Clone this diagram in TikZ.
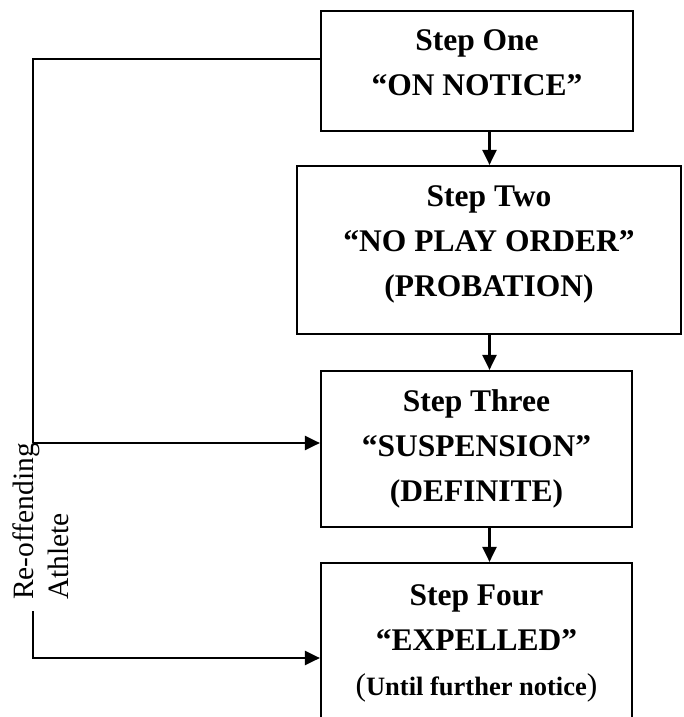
\documentclass[tikz,border=0pt]{standalone}
\usepackage{fontspec}
\setmainfont{Liberation Serif}
\usepackage{tikz}
\usetikzlibrary{shapes,arrows.meta,positioning}
\tikzstyle{stepbox} = [rectangle, draw, line width=2.2pt, inner sep=0pt, align=center, font=\bfseries\fontsize{31.5}{45}\selectfont]
\tikzstyle{line} = [draw, line width=2.2pt]
\tikzstyle{arrowline} = [draw, line width=2.2pt, -{Triangle[length=15pt,width=14pt]}]

\begin{document}
\begin{tikzpicture}[x=1pt, y=-1pt]
			\useasboundingbox (0,0) rectangle (683,717);
			\clip (0,0) rectangle (683,717);

			\node [stepbox, minimum width=312pt, minimum height=120pt, text depth=16pt] (one) at (477,71) {Step One\\``ON NOTICE''};
			\node [stepbox, minimum width=384pt, minimum height=168pt, text depth=18pt] (two) at (489,250) {Step Two\\``NO PLAY ORDER''\\(PROBATION)};
			\node [stepbox, minimum width=311pt, minimum height=156pt] (three) at (476.5,449) {Step Three\\``SUSPENSION''\\(DEFINITE)};
			\node [stepbox, minimum width=311pt, minimum height=160pt] (four) at (476.5,643) {Step Four\\``EXPELLED''\\{\mdseries(}{\fontsize{26.5}{45}\selectfont Until further notice}{\mdseries)}};
			\node [rotate=90, anchor=west, align=left, inner sep=0pt, font=\fontsize{29.5}{35}\selectfont] (athlete) at (40.5,600) {Re-offending\\Athlete};

			\coordinate (mid) at (489.5,0);
			\coordinate (c1) at (33,59);
			\coordinate (c2) at (33,443);
			\coordinate (c3) at (33,611);
			\coordinate (c4) at (33,658);

			\path [arrowline] (one.south -| mid) -- (two.north -| mid);
			\path [arrowline] (two.south -| mid) -- (three.north -| mid);
			\path [arrowline] (three.south -| mid) -- (four.north -| mid);

			\path [line] (one.west |- c1) -- (c1) -- (c2);
			\path [arrowline] (c2) -- (three.west |- c2);
			\path [arrowline] (c3) -- (c4) -- (four.west |- c4);
		\end{tikzpicture}
\end{document}
